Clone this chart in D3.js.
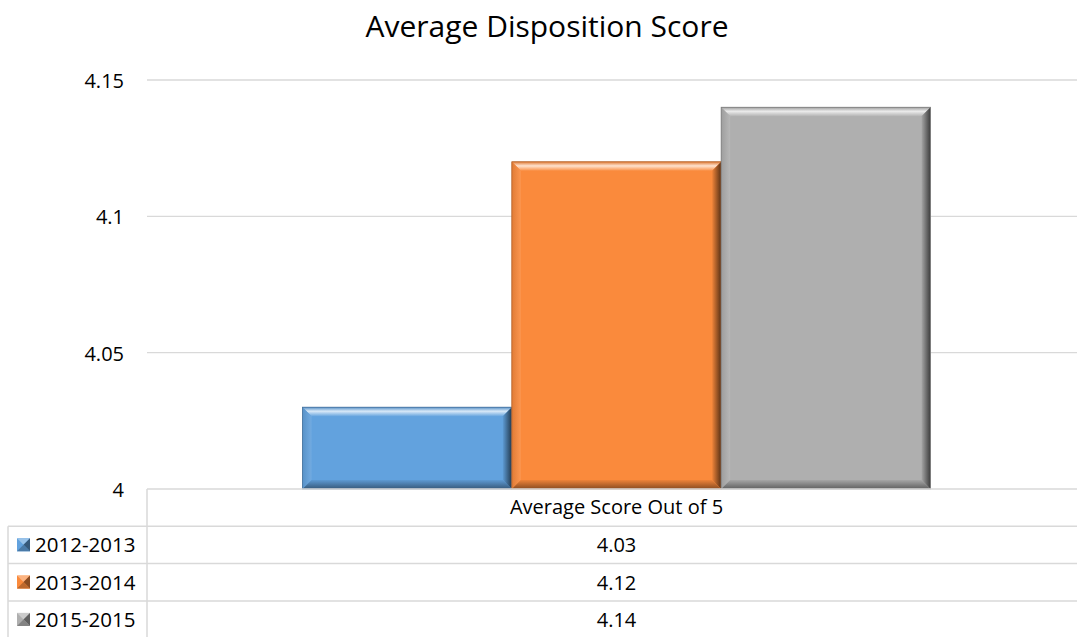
<!DOCTYPE html>
<html><head><meta charset="utf-8">
<script src="https://cdn.jsdelivr.net/npm/d3@7"></script>
<style>body{margin:0;background:#fff}svg{display:block}text{font-family:"Open Sans",Lato,sans-serif;fill:#000}</style>
</head><body><svg id="c" width="1077" height="637"></svg>
<script>
const title = "Average Disposition Score";
const category = "Average Score Out of 5";
const seriesNames = ["2012-2013","2013-2014","2015-2015"];
const seriesValues = [4.03,4.12,4.14];
const seriesColors = ["#62a2de","#fa8a3c","#afafaf"];
const tickValues = [4,4.05,4.1,4.15];

const svg = d3.select("#c");
const L = 147, R = 1086, T = 80, B = 489;
const y = d3.scaleLinear().domain([4,4.15]).range([B,T]);
const x = d3.scaleBand().domain([category]).range([L,R]);
const pad = 155.5;
const xs = d3.scaleBand().domain(seriesNames).range([x(category)+pad, x(category)+x.bandwidth()-pad]);
const cx = x(category)+x.bandwidth()/2;

svg.append("text").attr("x",547).attr("y",37).attr("text-anchor","middle").attr("font-size",30).text(title);

// gridlines
svg.append("g").selectAll("line").data(tickValues.filter(d=>d>4)).join("line")
  .attr("x1",L).attr("x2",1077).attr("y1",d=>y(d)).attr("y2",d=>y(d))
  .attr("stroke","#d9d9d9").attr("stroke-width",1.3);
svg.append("g").selectAll("text").data(tickValues).join("text")
  .attr("x",124).attr("y",d=>y(d)+8).attr("text-anchor","end").attr("font-size",20)
  .text(d=>d3.format("")(d));

// bars with bevel
const shade = (c,k)=> k>0 ? d3.interpolateRgb(c,"#fff")(k) : d3.interpolateRgb(c,"#000")(-k);
const defs = svg.append("defs");
const mk=(id,x1_,y1_,x2_,y2_,stops)=>{const lg=defs.append("linearGradient").attr("id",id).attr("x1",x1_).attr("y1",y1_).attr("x2",x2_).attr("y2",y2_);
  stops.forEach(([o,col])=>lg.append("stop").attr("offset",o).attr("stop-color",col));return `url(#${id})`;};
seriesNames.forEach((s,i)=>{
  const v = seriesValues[i], c = seriesColors[i];
  const x0 = xs(s), x1 = xs(s)+xs.bandwidth(), y0 = y(v), y1 = y(4);
  const b = 9;
  const g = svg.append("g");
  g.append("rect").attr("x",x0).attr("y",y0).attr("width",x1-x0).attr("height",y1-y0).attr("fill",c);
  const top = mk("t"+i,0,0,0,1,[[0,shade(c,-0.1)],[0.45,shade(c,0.75)],[1,shade(c,0.05)]]);
  const left = mk("l"+i,0,0,1,0,[[0,shade(c,-0.1)],[1,shade(c,0.1)]]);
  const right = mk("r"+i,0,0,1,0,[[0,shade(c,-0.05)],[1,shade(c,-0.65)]]);
  const bot = mk("b"+i,0,0,0,1,[[0,shade(c,-0.05)],[1,shade(c,-0.45)]]);
  g.append("polygon").attr("points",[[x0,y0],[x1,y0],[x1-b,y0+b],[x0+b,y0+b]].join(" ")).attr("fill",top);
  g.append("polygon").attr("points",[[x0,y0],[x0+b,y0+b],[x0+b,y1-b],[x0,y1]].join(" ")).attr("fill",left);
  g.append("polygon").attr("points",[[x1,y0],[x1,y1],[x1-b,y1-b],[x1-b,y0+b]].join(" ")).attr("fill",right);
  g.append("polygon").attr("points",[[x0,y1],[x0+b,y1-b],[x1-b,y1-b],[x1,y1]].join(" ")).attr("fill",bot);
  g.append("rect").attr("x",x0).attr("y",y0).attr("width",x1-x0).attr("height",y1-y0).attr("fill","none").attr("stroke",shade(c,-0.3)).attr("stroke-width",0.8);
});

// data table
const rowH = 37.3;
const lc = "#d9d9d9";
svg.append("line").attr("x1",L).attr("x2",1077).attr("y1",B).attr("y2",B).attr("stroke",lc).attr("stroke-width",1.5);
svg.append("line").attr("x1",L).attr("x2",L).attr("y1",B).attr("y2",637).attr("stroke",lc).attr("stroke-width",1.5);
svg.append("line").attr("x1",8).attr("x2",8).attr("y1",B+rowH).attr("y2",637).attr("stroke",lc).attr("stroke-width",1.5);
svg.append("text").attr("x",cx).attr("y",B+25).attr("text-anchor","middle").attr("font-size",20).text(category);
seriesNames.forEach((s,i)=>{
  const yt = B+rowH*(i+1);
  svg.append("line").attr("x1",8).attr("x2",1077).attr("y1",yt).attr("y2",yt).attr("stroke",lc).attr("stroke-width",1.5);
  const c = seriesColors[i];
  const gx=17, gy=yt+12, gs=13;
  svg.append("rect").attr("x",gx).attr("y",gy).attr("width",gs).attr("height",gs).attr("fill",c);
  svg.append("polygon").attr("points",[[gx,gy],[gx+gs,gy],[gx+gs/2,gy+gs/2]].join(" ")).attr("fill",shade(c,0.35));
  svg.append("polygon").attr("points",[[gx+gs,gy],[gx+gs,gy+gs],[gx+gs/2,gy+gs/2]].join(" ")).attr("fill",shade(c,-0.45));
  svg.append("polygon").attr("points",[[gx,gy+gs],[gx+gs,gy+gs],[gx+gs/2,gy+gs/2]].join(" ")).attr("fill",shade(c,-0.25));
  svg.append("text").attr("x",35).attr("y",yt+26).attr("font-size",20.5).text(s);
  svg.append("text").attr("x",cx).attr("y",yt+26).attr("text-anchor","middle").attr("font-size",20).text(d3.format(".2f")(seriesValues[i]));
});
</script></body></html>
